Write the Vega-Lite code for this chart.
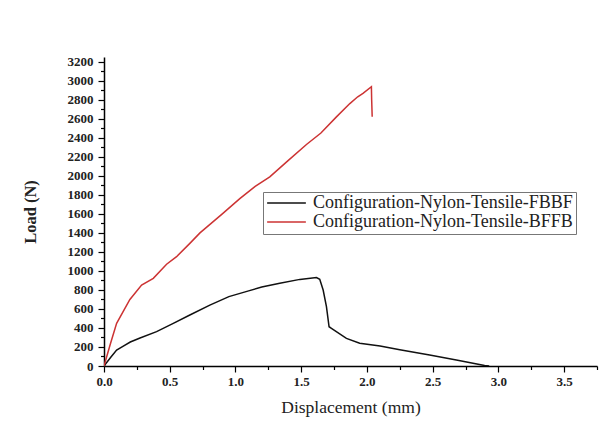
{
  "$schema": "https://vega.github.io/schema/vega-lite/v6.json",
  "autosize": {"type": "none"},
  "width": 493,
  "height": 309,
  "padding": {"left": 104, "top": 57, "right": 14, "bottom": 57},
  "background": "white",
  "config": {
    "view": {"stroke": null},
    "font": "Liberation Serif"
  },
  "data": {
    "values": [
      {"s": "Configuration-Nylon-Tensile-FBBF", "x": 0.0, "y": 0},
      {"s": "Configuration-Nylon-Tensile-FBBF", "x": 0.05, "y": 90},
      {"s": "Configuration-Nylon-Tensile-FBBF", "x": 0.096, "y": 168},
      {"s": "Configuration-Nylon-Tensile-FBBF", "x": 0.147, "y": 210},
      {"s": "Configuration-Nylon-Tensile-FBBF", "x": 0.2, "y": 252},
      {"s": "Configuration-Nylon-Tensile-FBBF", "x": 0.274, "y": 295},
      {"s": "Configuration-Nylon-Tensile-FBBF", "x": 0.4, "y": 361},
      {"s": "Configuration-Nylon-Tensile-FBBF", "x": 0.527, "y": 449},
      {"s": "Configuration-Nylon-Tensile-FBBF", "x": 0.653, "y": 536},
      {"s": "Configuration-Nylon-Tensile-FBBF", "x": 0.805, "y": 641},
      {"s": "Configuration-Nylon-Tensile-FBBF", "x": 0.95, "y": 730},
      {"s": "Configuration-Nylon-Tensile-FBBF", "x": 1.1, "y": 790},
      {"s": "Configuration-Nylon-Tensile-FBBF", "x": 1.2, "y": 830},
      {"s": "Configuration-Nylon-Tensile-FBBF", "x": 1.337, "y": 870},
      {"s": "Configuration-Nylon-Tensile-FBBF", "x": 1.49, "y": 911},
      {"s": "Configuration-Nylon-Tensile-FBBF", "x": 1.616, "y": 930},
      {"s": "Configuration-Nylon-Tensile-FBBF", "x": 1.641, "y": 912},
      {"s": "Configuration-Nylon-Tensile-FBBF", "x": 1.667, "y": 799},
      {"s": "Configuration-Nylon-Tensile-FBBF", "x": 1.692, "y": 624},
      {"s": "Configuration-Nylon-Tensile-FBBF", "x": 1.712, "y": 413},
      {"s": "Configuration-Nylon-Tensile-FBBF", "x": 1.73, "y": 396},
      {"s": "Configuration-Nylon-Tensile-FBBF", "x": 1.844, "y": 291},
      {"s": "Configuration-Nylon-Tensile-FBBF", "x": 1.945, "y": 239},
      {"s": "Configuration-Nylon-Tensile-FBBF", "x": 2.1, "y": 210},
      {"s": "Configuration-Nylon-Tensile-FBBF", "x": 2.25, "y": 170},
      {"s": "Configuration-Nylon-Tensile-FBBF", "x": 2.477, "y": 116},
      {"s": "Configuration-Nylon-Tensile-FBBF", "x": 2.68, "y": 63},
      {"s": "Configuration-Nylon-Tensile-FBBF", "x": 2.895, "y": 5},
      {"s": "Configuration-Nylon-Tensile-FBBF", "x": 2.93, "y": 0},
      {"s": "Configuration-Nylon-Tensile-BFFB", "x": 0.0, "y": 0},
      {"s": "Configuration-Nylon-Tensile-BFFB", "x": 0.05, "y": 240},
      {"s": "Configuration-Nylon-Tensile-BFFB", "x": 0.096, "y": 449},
      {"s": "Configuration-Nylon-Tensile-BFFB", "x": 0.197, "y": 700},
      {"s": "Configuration-Nylon-Tensile-BFFB", "x": 0.286, "y": 852},
      {"s": "Configuration-Nylon-Tensile-BFFB", "x": 0.375, "y": 922},
      {"s": "Configuration-Nylon-Tensile-BFFB", "x": 0.476, "y": 1070},
      {"s": "Configuration-Nylon-Tensile-BFFB", "x": 0.552, "y": 1150},
      {"s": "Configuration-Nylon-Tensile-BFFB", "x": 0.653, "y": 1290},
      {"s": "Configuration-Nylon-Tensile-BFFB", "x": 0.73, "y": 1400},
      {"s": "Configuration-Nylon-Tensile-BFFB", "x": 0.9, "y": 1600},
      {"s": "Configuration-Nylon-Tensile-BFFB", "x": 1.033, "y": 1760},
      {"s": "Configuration-Nylon-Tensile-BFFB", "x": 1.15, "y": 1890},
      {"s": "Configuration-Nylon-Tensile-BFFB", "x": 1.261, "y": 1990},
      {"s": "Configuration-Nylon-Tensile-BFFB", "x": 1.4, "y": 2160},
      {"s": "Configuration-Nylon-Tensile-BFFB", "x": 1.54, "y": 2330},
      {"s": "Configuration-Nylon-Tensile-BFFB", "x": 1.65, "y": 2450},
      {"s": "Configuration-Nylon-Tensile-BFFB", "x": 1.768, "y": 2620},
      {"s": "Configuration-Nylon-Tensile-BFFB", "x": 1.87, "y": 2760},
      {"s": "Configuration-Nylon-Tensile-BFFB", "x": 1.93, "y": 2832},
      {"s": "Configuration-Nylon-Tensile-BFFB", "x": 1.97, "y": 2867},
      {"s": "Configuration-Nylon-Tensile-BFFB", "x": 2.034, "y": 2937},
      {"s": "Configuration-Nylon-Tensile-BFFB", "x": 2.036, "y": 2800},
      {"s": "Configuration-Nylon-Tensile-BFFB", "x": 2.04, "y": 2622}
    ]
  },
  "mark": {"type": "line", "strokeWidth": 1.5, "clip": true},
  "encoding": {
    "x": {
      "field": "x",
      "type": "quantitative",
      "scale": {"domain": [0, 3.75], "nice": false, "zero": false},
      "axis": {
        "title": "Displacement (mm)",
        "titleFont": "Liberation Serif",
        "titleFontSize": 17.5,
        "titleFontWeight": "normal",
        "titleColor": "#222",
        "titlePadding": 10,
        "values": [0, 0.25, 0.5, 0.75, 1, 1.25, 1.5, 1.75, 2, 2.25, 2.5, 2.75, 3, 3.25, 3.5, 3.75],
        "labelExpr": "round(datum.value*4) % 2 === 0 ? format(datum.value, '.1f') : ''",
        "labelFont": "Liberation Serif",
        "labelFontWeight": "bold",
        "labelFontSize": 13,
        "labelColor": "#222",
        "labelPadding": 3,
        "labelFlush": false,
        "labelOverlap": false,
        "domainColor": "black",
        "domainWidth": 1.5,
        "tickColor": "black",
        "tickWidth": 1.2,
        "tickSize": {"condition": {"test": "round(datum.value*4) % 2 === 0", "value": 6}, "value": 3.5},
        "grid": false
      }
    },
    "y": {
      "field": "y",
      "type": "quantitative",
      "scale": {"domain": [0, 3250], "nice": false},
      "axis": {
        "title": "Load (N)",
        "titleFont": "Liberation Serif",
        "titleFontSize": 16.5,
        "titleFontWeight": "bold",
        "titleColor": "#222",
        "titlePadding": 29,
        "values": [0, 100, 200, 300, 400, 500, 600, 700, 800, 900, 1000, 1100, 1200, 1300, 1400, 1500, 1600, 1700, 1800, 1900, 2000, 2100, 2200, 2300, 2400, 2500, 2600, 2700, 2800, 2900, 3000, 3100, 3200],
        "labelExpr": "datum.value % 200 === 0 ? datum.value : ''",
        "labelFont": "Liberation Serif",
        "labelFontWeight": "bold",
        "labelFontSize": 13,
        "labelColor": "#222",
        "labelPadding": 5,
        "labelOverlap": false,
        "domainColor": "black",
        "domainWidth": 1.5,
        "tickColor": "black",
        "tickWidth": 1.2,
        "tickSize": {"condition": {"test": "datum.value % 200 === 0", "value": 6}, "value": 3.5},
        "grid": false
      }
    },
    "color": {
      "field": "s",
      "type": "nominal",
      "sort": ["Configuration-Nylon-Tensile-FBBF", "Configuration-Nylon-Tensile-BFFB"],
      "scale": {
        "domain": ["Configuration-Nylon-Tensile-FBBF", "Configuration-Nylon-Tensile-BFFB"],
        "range": ["#111111", "#cc3333"]
      },
      "legend": {
        "title": null,
        "orient": "none",
        "legendX": 159,
        "legendY": 135,
        "symbolType": "stroke",
        "symbolSize": 1500,
        "symbolStrokeWidth": 1.5,
        "symbolOffset": 0,
        "labelOffset": 6,
        "labelFont": "Liberation Serif",
        "labelFontSize": 18,
        "labelColor": "#222",
        "labelLimit": 400,
        "clipHeight": 16,
        "rowPadding": 1,
        "strokeColor": "#777",
        "padding": 3,
        "fillColor": "white"
      }
    }
  }
}
